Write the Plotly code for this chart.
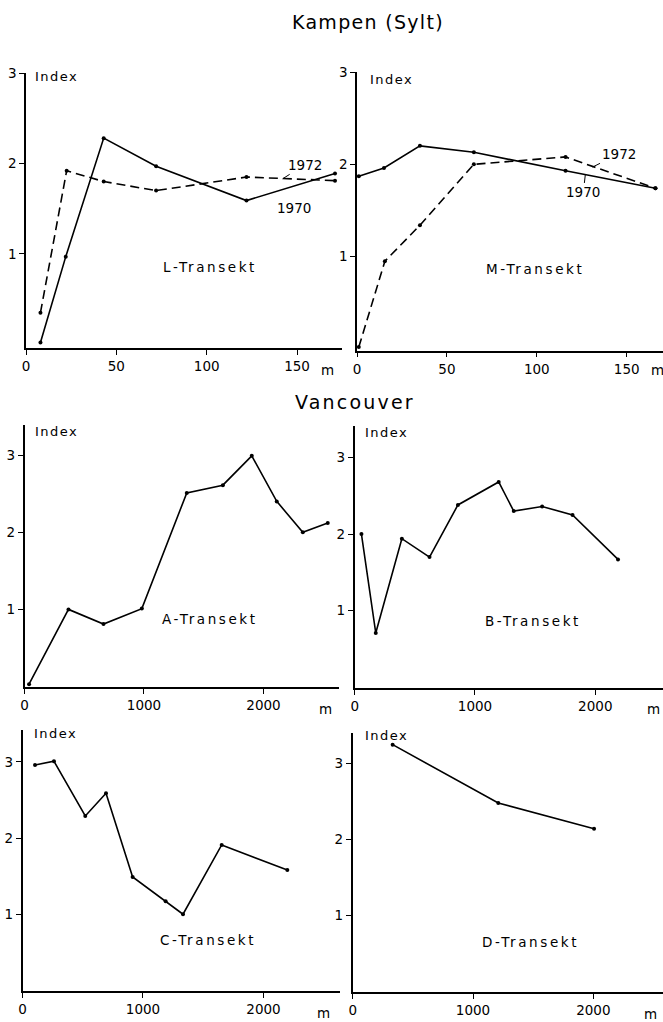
import plotly.graph_objects as go

W, H = 663, 1022
FONT = "DejaVu Sans"

# ---------------- data ----------------
L_x_1970 = [8, 22, 43, 72, 122, 171]
L_y_1970 = [0.02, 0.97, 2.28, 1.97, 1.59, 1.89]
L_x_1972 = [8, 22.5, 43, 72, 122, 171]
L_y_1972 = [0.35, 1.92, 1.80, 1.70, 1.85, 1.81]

M_x_1970 = [1, 15, 35, 65, 116, 166]
M_y_1970 = [1.87, 1.96, 2.20, 2.13, 1.93, 1.74]
M_x_1972 = [1, 15.5, 35, 65, 116, 166]
M_y_1972 = [0.02, 0.95, 1.34, 2.00, 2.08, 1.74]

A_x = [38, 368, 661, 982, 1358, 1660, 1902, 2111, 2329, 2538]
A_y = [0.03, 1.00, 0.81, 1.01, 2.51, 2.61, 2.99, 2.40, 2.00, 2.12]

B_x = [56, 175, 392, 622, 858, 1197, 1322, 1558, 1811, 2189]
B_y = [2.00, 0.71, 1.94, 1.70, 2.38, 2.68, 2.30, 2.36, 2.25, 1.67]

C_x = [104, 261, 521, 693, 914, 1188, 1332, 1653, 2198]
C_y = [2.96, 3.01, 2.29, 2.59, 1.49, 1.17, 1.00, 1.91, 1.58]

D_x = [332, 1210, 2006]
D_y = [3.25, 2.48, 2.14]

kampen_ticks = [0, 50, 100, 150]
vanc_ticks = [0, 1000, 2000]
y_ticks = [1, 2, 3]

# ---------------- layout geometry (pixels) ----------------
# (x_left, x_right, x_max, y_bottom, y_top, y_min, y_max, xticks)
panels = [
    (26, 341.7, 174.7, 348, 73, -0.04, 3.0, kampen_ticks),
    (357, 663, 170.2, 350.5, 72, -0.017, 3.0, kampen_ticks),
    (24.5, 339, 2632, 687, 425, -0.006, 3.39, vanc_ticks),
    (354.7, 663, 2563, 688, 426, -0.008, 3.41, vanc_ticks),
    (22.5, 340, 2635, 990.7, 730, -0.005, 3.42, vanc_ticks),
    (352.7, 663, 2579, 991.7, 733.3, -0.01, 3.40, vanc_ticks),
]

fig = go.Figure()

line_solid = dict(color="black", width=1.6)
line_dash = dict(color="black", width=1.6, dash="9px,5px")
mk = dict(color="black", size=4)

series = [
    (1, L_x_1970, L_y_1970, line_solid),
    (1, L_x_1972, L_y_1972, line_dash),
    (2, M_x_1970, M_y_1970, line_solid),
    (2, M_x_1972, M_y_1972, line_dash),
    (3, A_x, A_y, line_solid),
    (4, B_x, B_y, line_solid),
    (5, C_x, C_y, line_solid),
    (6, D_x, D_y, line_solid),
]
for i, xs, ys, ln in series:
    sfx = "" if i == 1 else str(i)
    fig.add_trace(go.Scatter(x=xs, y=ys, mode="lines+markers", line=ln,
                             marker=mk, xaxis="x" + sfx, yaxis="y" + sfx,
                             showlegend=False, cliponaxis=False))

layout = {}
for i, (xl, xr, xmax, yb, yt, ymin, ymax, xt) in enumerate(panels, start=1):
    sfx = "" if i == 1 else str(i)
    layout["xaxis" + sfx] = dict(
        domain=[xl / W, xr / W], range=[0, xmax], anchor="y" + sfx,
        tickvals=xt, ticks="outside", ticklen=5, tickwidth=1.3, tickcolor="black",
        showline=True, linecolor="black", linewidth=1.6, showgrid=False,
        zeroline=False, tickfont=dict(family=FONT, size=13.5, color="black"),
        ticklabelstandoff=0, fixedrange=True, automargin=False)
    layout["yaxis" + sfx] = dict(
        domain=[1 - yb / H, 1 - yt / H], range=[ymin, ymax], anchor="x" + sfx,
        tickvals=y_ticks, ticks="outside", ticklen=5, tickwidth=1.3, tickcolor="black",
        showline=True, linecolor="black", linewidth=1.6, showgrid=False,
        zeroline=False, tickfont=dict(family=FONT, size=13.5, color="black"),
        ticklabelstandoff=0, fixedrange=True, automargin=False)

def sp(txt, s):
    return '<span style="letter-spacing:%spx">%s</span>' % (s, txt)

def pa(text, px, py, size, xanchor="center"):
    return dict(text=text, x=px / W, y=1 - py / H, xref="paper", yref="paper",
                xanchor=xanchor, yanchor="middle", showarrow=False,
                font=dict(family=FONT, size=size, color="black"))

ann = []
# titles
ann.append(pa(sp("Kampen (Sylt)", 1.3), 368, 22, 19))
ann.append(pa(sp("Vancouver", 2.2), 355, 402, 19))
# Index labels
for (px, py) in [(33, 76), (368, 79), (33, 431), (363, 432), (32, 733), (363, 735)]:
    ann.append(pa(sp("Index", 1.5), px, py, 13, xanchor="left"))
# unit labels
for (px, py) in [(327, 370), (657, 370), (325, 709), (653, 709), (323, 1013), (650, 1014)]:
    ann.append(pa("m", px, py, 13.5))
# transect labels
for (i, name, x, y) in [(1, "L-Transekt", 102, 0.86), (2, "M-Transekt", 99, 0.87),
                        (3, "A-Transekt", 1552, 0.88), (4, "B-Transekt", 1485, 0.86),
                        (5, "C-Transekt", 1542, 0.66), (6, "D-Transekt", 1474, 0.65)]:
    sfx = "" if i == 1 else str(i)
    ann.append(dict(text=sp(name, 2.6), x=x, y=y, xref="x" + sfx, yref="y" + sfx,
                    yanchor="middle", showarrow=False,
                    font=dict(family=FONT, size=13.5, color="black")))
# year labels with leader lines
for (i, yr, x, y, ax, ay) in [(1, "1972", 142, 1.83, 22, -14), (1, "1970", 144, 1.70, 8, 17),
                              (2, "1972", 131, 1.97, 26, -13), (2, "1970", 127, 1.89, -2, 18)]:
    sfx = "" if i == 1 else str(i)
    ann.append(dict(text=yr, x=x, y=y, xref="x" + sfx, yref="y" + sfx, ax=ax, ay=ay,
                    showarrow=True, arrowhead=0, arrowwidth=1, arrowcolor="black", standoff=0,
                    font=dict(family=FONT, size=13.5, color="black")))

fig.update_layout(width=W, height=H, margin=dict(l=0, r=0, t=0, b=0),
                  paper_bgcolor="white", plot_bgcolor="white", annotations=ann, **layout)

fig.write_html("out.html")
